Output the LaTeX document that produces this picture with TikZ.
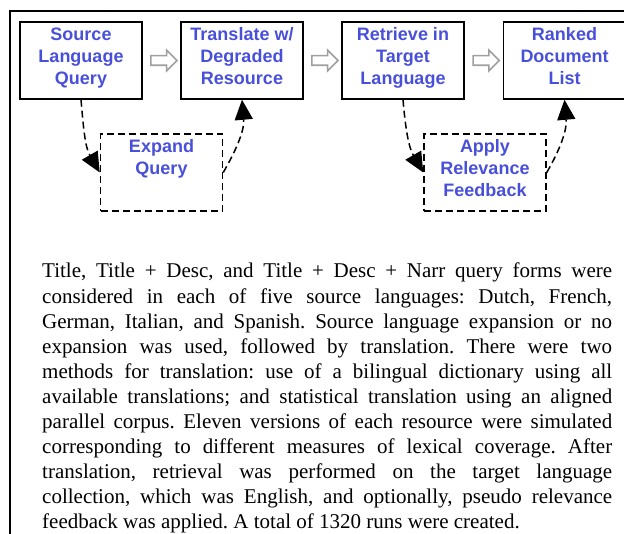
\documentclass[tikz,border=0pt]{standalone}
\usepackage{fontspec}
\setmainfont{Liberation Serif}
\setsansfont{Liberation Sans}
\usetikzlibrary{arrows.meta,shapes.arrows,calc}

\definecolor{stageblue}{RGB}{72,80,218}
% keep the box labels at the top of each box
\newcommand{\boxlines}[1]{\parbox[c][66pt][t]{118pt}{\centering #1}}

\begin{document}
\begin{tikzpicture}[x=1pt, y=-1pt,
    stage/.style={draw, line width=1.5pt, minimum width=120pt, minimum height=77pt, inner sep=2pt,
        font=\sffamily\bfseries\fontsize{18}{22}\selectfont, text=stageblue},
    optional/.style={stage, dash pattern=on 7pt off 4pt, minimum width=119pt},
    hollow/.style={single arrow, draw=gray!75, fill=white, line width=1.6pt, minimum height=26pt,
        text height=8pt, inner sep=0pt, single arrow head extend=5.5pt},
    detour/.style={line width=1.5pt, dash pattern=on 7pt off 4pt, -{Triangle[length=20pt,width=18pt]}}]

    \useasboundingbox (0,0) rectangle (624,534);

    % Frame round the figure (cut off on the right and at the bottom)
    \draw[line width=2pt] (10,534) -- (10,11) -- (624,11);

    % Main pipeline
    \node[stage] (src)    at (81,60.5)    {\boxlines{Source\\Language\\Query}};
    \node[stage] (trans)  at (242,60.5)   {\boxlines{Translate w/\\Degraded\\Resource}};
    \node[stage] (retr)   at (403,60.5)   {\boxlines{Retrieve in\\Target\\Language}};
    \node[stage] (ranked) at (564.5,60.5) {\boxlines{Ranked\\Document\\List}};

    % Optional steps
    \node[optional] (expand)   at (161.5,172.5) {\boxlines{Expand\\Query}};
    \node[optional] (feedback) at (485,172.5)   {\boxlines{Apply\\Relevance\\Feedback}};

    % Hollow arrows between the stages
    \node[hollow] (a1) at ($(src.east)!0.5!(trans.west)$) {};
    \node[hollow] (a2) at ($(trans.east)!0.5!(retr.west)$) {};
    \node[hollow] (a3) at ($(retr.east)!0.5!(ranked.west)$) {};

    % Dashed detours through the optional steps
    \draw[detour] (src.south) to[out=-85, in=120] (expand.west);
    \draw[detour] (expand.east) to[out=60, in=-85] (trans.south);
    \draw[detour] (retr.south) to[out=-85, in=120] (feedback.west);
    \draw[detour] (feedback.east) to[out=60, in=-85] (ranked.south);

    % Description below the diagram
    \node[anchor=north west, text width=570pt, align=justify, inner sep=0pt,
        font=\frenchspacing\fontsize{21}{25.1}\selectfont] (desc) at (42,263)
        {Title, Title + Desc, and Title + Desc + Narr query forms were\linebreak
        considered in each of five source languages: Dutch, French,\linebreak
        German, Italian, and Spanish. Source language expansion or no\linebreak
        expansion was used, followed by translation. There were two\linebreak
        methods for translation: use of a bilingual dictionary using all\linebreak
        available translations; and statistical translation using an aligned\linebreak
        parallel corpus. Eleven versions of each resource were simulated\linebreak
        corresponding to different measures of lexical coverage. After\linebreak
        translation, retrieval was performed on the target language\linebreak
        collection, which was English, and optionally, pseudo relevance\linebreak
        feedback was applied. A total of 1320 runs were created.};

\end{tikzpicture}
\end{document}
